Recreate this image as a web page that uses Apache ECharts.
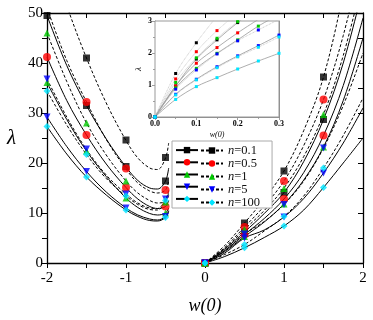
<!DOCTYPE html>
<html>
<head>
<meta charset="utf-8">
<script src="https://cdn.jsdelivr.net/npm/echarts/dist/echarts.min.js"></script>
<style>
  html, body { margin: 0; padding: 0; background: #fff; }
  #chart { width: 373px; height: 320px; }
</style>
</head>
<body>
<div id="chart"></div>
<script>
// n values, one row per n in every table below
const nLabels = ['0.1', '0.5', '1', '5', '100']
const colors = ['#000000', '#ff0000', '#00c800', '#0000ff', '#00e5ff']
const shapes = ['rect', 'circle', 'triangle', 'triangle', 'diamond']
const rotations = [0, 0, 0, 180, 0]

// main plot, w(0) < 0 branch (curves)
const xNeg = [-2, -1.75, -1.5, -1.25, -1, -0.85, -0.7, -0.6, -0.5, -0.46]
const negDashed = [
  [64, 51.5, 41, 32, 24.5, 21, 19, 18.7, 21, 24],
  [51, 40.5, 32.2, 24.7, 18.8, 16, 14.4, 14, 14.6, 16.5],
  [46, 36.3, 28, 21.6, 16.4, 14, 12.5, 12, 12.3, 13.5],
  [36.8, 29.2, 22.7, 17.6, 13.8, 12, 11, 10.9, 12.7, 14.5],
  [34.4, 27.6, 21.7, 16.9, 13.4, 11.7, 10.7, 10.6, 12.4, 14]
]
const negSolid = [
  [49.5, 39.5, 31.5, 24.8, 19.2, 16.5, 15, 14.8, 16.4, 19],
  [41.2, 32.5, 25.6, 19.8, 15.1, 12.8, 11.3, 10.9, 11.3, 12.5],
  [36.1, 28.7, 22.4, 17.3, 13, 11.1, 9.9, 9.6, 10, 11],
  [29.2, 23.3, 18.3, 14.2, 11, 9.6, 8.8, 8.6, 9.3, 10.5],
  [27.3, 21.8, 17.2, 13.6, 10.6, 9.3, 8.5, 8.4, 9.1, 10.3]
]

// main plot, w(0) > 0 branch (curves)
const xPos = [0, 0.25, 0.5, 0.75, 1, 1.25, 1.5, 1.75, 2]
const posDashed = [
  [0, 3.5, 8.0, 12.8, 18.4, 26.5, 37.2, 54, 75],
  [0, 3.1, 7.2, 11.4, 16.4, 23.5, 32.7, 45.5, 62],
  [0, 2.9, 6.7, 10.5, 15.0, 21.3, 29.7, 41.5, 57],
  [0, 2.5, 5.8, 8.3, 11.7, 16.4, 23.0, 31.5, 42],
  [0, 1.7, 3.7, 6.4, 9.3, 13.4, 19.0, 25.5, 33]
]
const posSolid = [
  [0, 2.8, 6.2, 9.9, 14.1, 20.3, 28.7, 40, 55],
  [0, 2.5, 5.7, 8.9, 12.8, 18.1, 25.5, 35.5, 49],
  [0, 2.3, 5.3, 8.2, 11.8, 16.6, 23.2, 32.5, 45],
  [0, 2.0, 5.0, 6.6, 9.2, 12.9, 18.0, 24, 31],
  [0, 1.3, 3.05, 5.1, 7.4, 10.6, 15.1, 20, 25]
]

// main plot symbols
const xSym = [-2, -1.5, -1, -0.5, 0, 0.5, 1, 1.5]
const symDashed = [
  [null, 41.0, 24.6, 21.1, 0, 8.0, 18.4, 37.2],
  [null, 32.2, 18.9, 14.6, 0, 7.2, 16.4, 32.7],
  [46.0, 28.0, 16.4, 12.2, 0, 6.7, 14.9, 29.7],
  [36.8, 22.8, 13.8, 12.8, 0, 5.8, 11.7, 23.0],
  [34.4, 21.7, 13.4, 12.5, 0, 3.7, 9.3, 19.0]
]
const symSolid = [
  [49.5, 31.5, 19.3, 16.4, 0, 6.2, 14.1, 28.7],
  [41.2, 25.6, 15.1, 11.3, 0, 5.7, 12.8, 25.5],
  [36.1, 22.4, 13.0, 10.0, 0, 5.3, 11.8, 23.2],
  [29.2, 18.3, 11.0, 9.3, 0, 5.0, 9.2, 18.0],
  [27.3, 17.2, 10.6, 9.1, 0, 3.05, 7.4, 15.1]
]

// inset, small w(0)
const xInset = [0, 0.05, 0.1, 0.15, 0.2, 0.25, 0.3]
const insetDashed = [
  [0, 1.36, 2.32, 3.15],
  [0, 1.19, 2.04, 2.70, 3.25],
  [0, 1.08, 1.85, 2.46, 2.98, 3.45],
  [0, 0.87, 1.47, 1.97, 2.38, 2.72, 3.05],
  [0, 0.69, 1.16, 1.54, 1.88, 2.18, 2.5]
]
const insetSolid = [
  [0, 0.97, 1.81, 2.41, 2.95, 3.45],
  [0, 0.97, 1.68, 2.17, 2.63, 3.05],
  [0, 0.91, 1.52, 1.99, 2.41, 2.84, 3.2],
  [0, 0.71, 1.18, 1.57, 1.91, 2.23, 2.56],
  [0, 0.55, 0.95, 1.23, 1.5, 1.75, 1.99]
]

const serif = '"Liberation Serif", "DejaVu Serif", serif'
const dash = [3, 2]

const chart = echarts.init(document.getElementById('chart'))

function pairs(xs, ys) {
  return ys.map((y, j) => [xs[j], y])
}

const series = []
nLabels.forEach((n, i) => {
  // black theory curves in the main plot
  ;[[xNeg, negDashed[i], dash], [xNeg, negSolid[i], 'solid'],
    [xPos, posDashed[i], dash], [xPos, posSolid[i], 'solid']].forEach(c => {
    series.push({
      type: 'line',
      xAxisIndex: 0,
      yAxisIndex: 0,
      data: pairs(c[0], c[1]),
      smooth: 0.35,
      symbol: 'none',
      silent: true,
      lineStyle: { color: '#000', width: 1, type: c[2] },
      z: 2
    })
  })
  // coloured points
  const pts = []
  xSym.forEach((x, j) => {
    if (symDashed[i][j] != null) pts.push([x, symDashed[i][j]])
    if (symSolid[i][j] != null) pts.push([x, symSolid[i][j]])
  })
  series.push({
    type: 'scatter',
    xAxisIndex: 0,
    yAxisIndex: 0,
    data: pts,
    symbol: shapes[i],
    symbolRotate: rotations[i],
    symbolSize: shapes[i] === 'circle' ? 8 : 7,
    itemStyle: { color: colors[i] },
    silent: true,
    z: 5
  })
  // inset curves
  ;[[insetDashed[i], 'dotted', '#b8b8b8'], [insetSolid[i], 'solid', '#999']].forEach(c => {
    series.push({
      type: 'line',
      xAxisIndex: 2,
      yAxisIndex: 2,
      data: pairs(xInset, c[0]),
      smooth: 0.35,
      symbol: 'rect',
      symbolSize: 3,
      showAllSymbol: true,
      itemStyle: { color: colors[i] },
      lineStyle: { color: c[2], width: 0.8, type: c[1] },
      silent: true,
      z: 4
    })
  })
  // legend-only entries
  ;[['s' + n, 'solid'], ['n=' + n, dash]].forEach(c => {
    series.push({
      name: c[0],
      type: 'line',
      xAxisIndex: 0,
      yAxisIndex: 0,
      data: [],
      symbol: shapes[i],
      symbolRotate: rotations[i],
      symbolSize: 7,
      itemStyle: { color: colors[i] },
      lineStyle: { color: '#000', width: 1, type: c[1] }
    })
  })
})

const boxAxis = { onZero: false, lineStyle: { color: '#000', width: 1.3 } }
const tickStyle = { lineStyle: { color: '#000', width: 1 } }
const insetLine = { onZero: false, lineStyle: { color: '#888', width: 1 } }
const insetTick = { lineStyle: { color: '#888', width: 0.8 } }

const option = {
  animation: false,
  backgroundColor: '#fff',
  grid: [
    { left: 47, right: 10, top: 13, bottom: 53.5 },
    { left: 155, top: 21, width: 124, height: 96, show: true, backgroundColor: '#fff', borderColor: '#999', borderWidth: 1, z: 1 }
  ],
  legend: [
    {
      data: nLabels.map(n => 's' + n),
      orient: 'vertical',
      left: 172,
      top: 141,
      itemWidth: 22,
      itemHeight: 8,
      itemGap: 0,
      formatter: () => ' ',
      textStyle: { fontSize: 11, lineHeight: 12.2 },
      backgroundColor: '#fff',
      borderColor: '#aaa',
      borderWidth: 1,
      padding: [3, 66, 3, 3],
      selectedMode: false,
      z: 8
    },
    {
      data: nLabels.map(n => 'n=' + n),
      orient: 'vertical',
      left: 197,
      top: 141,
      itemWidth: 22,
      itemHeight: 8,
      itemGap: 0,
      padding: [3, 3, 3, 3],
      selectedMode: false,
      formatter: name => '{i|n}{t|' + name.slice(1) + '}',
      textStyle: {
        fontSize: 11,
        lineHeight: 12.2,
        rich: {
          i: { fontFamily: serif, fontSize: 12.5, fontStyle: 'italic', color: '#111', lineHeight: 12.2 },
          t: { fontFamily: serif, fontSize: 12.5, color: '#111', lineHeight: 12.2 }
        }
      },
      z: 9
    }
  ],
  xAxis: [
    {
      gridIndex: 0, type: 'value', min: -2, max: 2, interval: 1,
      name: 'w(0)', nameLocation: 'middle', nameGap: 34,
      nameTextStyle: { fontFamily: serif, fontSize: 18, fontStyle: 'italic', color: '#000' },
      axisLine: boxAxis, axisTick: { length: 5, ...tickStyle },
      minorTick: { show: true, splitNumber: 2, length: 5, ...tickStyle },
      axisLabel: { fontFamily: serif, fontSize: 15, color: '#000', margin: 8 },
      splitLine: { show: false }
    },
    {
      gridIndex: 0, type: 'value', min: -2, max: 2, interval: 1, position: 'top',
      axisLine: boxAxis, axisTick: { inside: true, length: 5, ...tickStyle },
      minorTick: { show: true, splitNumber: 2, length: 5, ...tickStyle },
      axisLabel: { show: false }, splitLine: { show: false }
    },
    {
      gridIndex: 1, type: 'value', min: 0, max: 0.3, interval: 0.1,
      name: 'w(0)', nameLocation: 'middle', nameGap: 14,
      nameTextStyle: { fontFamily: serif, fontSize: 8, fontStyle: 'italic', color: '#000' },
      axisLine: insetLine, axisTick: { length: 3, ...insetTick },
      minorTick: { show: true, splitNumber: 2, length: 2, ...insetTick },
      axisLabel: { fontFamily: serif, fontSize: 8, fontWeight: 'bold', color: '#000', margin: 3, formatter: v => v.toFixed(1) },
      splitLine: { show: false }
    },
    {
      gridIndex: 1, type: 'value', min: 0, max: 0.3, interval: 0.1, position: 'top',
      axisLine: insetLine, axisTick: { inside: true, length: 3, ...insetTick },
      minorTick: { show: true, splitNumber: 2, length: 2, ...insetTick },
      axisLabel: { show: false }, splitLine: { show: false }
    }
  ],
  yAxis: [
    {
      gridIndex: 0, type: 'value', min: 0, max: 50, interval: 10,
      name: 'λ', nameLocation: 'middle', nameGap: 31, nameRotate: 0,
      nameTextStyle: { fontFamily: serif, fontSize: 21, fontStyle: 'italic', color: '#000' },
      axisLine: boxAxis, axisTick: { length: 5, ...tickStyle },
      minorTick: { show: true, splitNumber: 2, length: 5, ...tickStyle },
      axisLabel: { fontFamily: serif, fontSize: 15, color: '#000', margin: 4 },
      splitLine: { show: false }
    },
    {
      gridIndex: 0, type: 'value', min: 0, max: 50, interval: 10, position: 'right',
      axisLine: boxAxis, axisTick: { inside: true, length: 5, ...tickStyle },
      minorTick: { show: true, splitNumber: 2, length: 5, ...tickStyle },
      axisLabel: { show: false }, splitLine: { show: false }
    },
    {
      gridIndex: 1, type: 'value', min: 0, max: 3, interval: 1,
      name: 'λ', nameLocation: 'middle', nameGap: 12, nameRotate: 90,
      nameTextStyle: { fontFamily: serif, fontSize: 9, fontStyle: 'italic', color: '#000' },
      axisLine: insetLine, axisTick: { length: 3, ...insetTick },
      minorTick: { show: true, splitNumber: 2, length: 2, ...insetTick },
      axisLabel: { fontFamily: serif, fontSize: 8, fontWeight: 'bold', color: '#000', margin: 3 },
      splitLine: { show: false }
    },
    {
      gridIndex: 1, type: 'value', min: 0, max: 3, interval: 1, position: 'right',
      axisLine: insetLine, axisTick: { inside: true, length: 3, ...insetTick },
      minorTick: { show: true, splitNumber: 2, length: 2, ...insetTick },
      axisLabel: { show: false }, splitLine: { show: false }
    }
  ],
  series: series
}

chart.setOption(option)
</script>
</body>
</html>
